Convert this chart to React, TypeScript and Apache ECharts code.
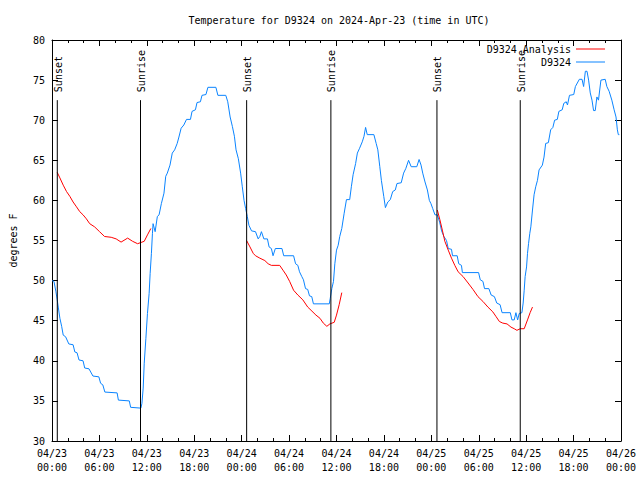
import React, { useEffect, useRef } from "react";
import * as echarts from "echarts";

// Hours since 2024-04-23 00:00 UTC, temperature (°F)
const blueSeries: [number, number][] = [
  [0.0, 50.0], [0.25, 49.9], [0.5, 48.6], [0.66, 47.6], [0.79, 46.7], [1.0, 45.3], [1.22, 44.3], [1.42, 43.2],
  [1.72, 43.0], [2.13, 42.1], [2.67, 42.0], [2.89, 41.1], [3.17, 41.0], [3.42, 40.1], [3.93, 40.0], [4.14, 39.1],
  [4.68, 39.0], [5.18, 38.1], [5.93, 38.0], [6.15, 37.2], [6.43, 37.0], [6.69, 36.1], [8.24, 36.0], [8.4, 35.1],
  [9.78, 35.0], [9.95, 34.2], [11.25, 34.1], [11.38, 34.7], [11.54, 36.6], [11.67, 39.7], [11.88, 42.8], [12.08, 45.9],
  [12.29, 48.4], [12.42, 50.9], [12.58, 53.4], [12.71, 55.9], [12.79, 57.1], [13.05, 56.1], [13.33, 58.0], [13.55, 58.2],
  [13.84, 59.6], [14.17, 60.9], [14.39, 63.0], [14.59, 63.4], [14.93, 64.4], [15.22, 65.9], [15.52, 66.3], [15.84, 67.1],
  [16.06, 67.9], [16.34, 69.0], [16.68, 69.4], [17.02, 70.1], [17.52, 70.1], [17.72, 71.1], [18.15, 71.3], [18.35, 72.2],
  [18.78, 72.3], [18.98, 73.1], [19.48, 73.2], [19.73, 74.1], [20.74, 74.1], [20.99, 73.1], [21.99, 73.1], [22.24, 72.3],
  [22.54, 70.4], [22.83, 69.2], [23.08, 68.0], [23.29, 66.3], [23.58, 65.2], [23.87, 63.4], [24.08, 61.7], [24.3, 60.0],
  [24.5, 59.0], [24.71, 58.0], [24.92, 56.9], [25.25, 56.2], [25.75, 56.1], [26.09, 55.2], [26.3, 55.5], [26.5, 56.1],
  [26.81, 55.2], [27.26, 55.2], [27.47, 54.2], [27.76, 54.0], [27.97, 53.1], [28.26, 54.0], [29.1, 54.0], [29.32, 53.1],
  [30.57, 53.1], [30.82, 52.1], [31.11, 51.9], [31.32, 51.1], [31.61, 50.5], [31.82, 50.1], [32.08, 49.0], [32.36, 48.9],
  [32.58, 48.1], [32.87, 48.0], [33.08, 47.1], [35.09, 47.1], [35.21, 47.8], [35.41, 49.0], [35.62, 49.9], [35.79, 52.1],
  [36.0, 53.8], [36.21, 54.4], [36.41, 55.5], [36.67, 56.5], [36.97, 58.4], [37.26, 60.1], [37.67, 60.1], [37.88, 61.7],
  [38.1, 63.2], [38.42, 64.6], [38.64, 65.9], [38.92, 66.5], [39.26, 67.3], [39.48, 68.0], [39.68, 69.1], [39.89, 68.2],
  [40.73, 68.2], [41.02, 67.1], [41.23, 66.3], [41.48, 64.2], [41.68, 62.5], [41.98, 60.5], [42.19, 59.1], [42.49, 59.8],
  [42.81, 60.1], [43.11, 61.1], [43.44, 61.3], [43.65, 62.1], [44.19, 62.2], [44.49, 63.4], [44.78, 64.0], [45.12, 65.0],
  [45.45, 64.2], [46.16, 64.2], [46.45, 65.1], [46.7, 64.4], [46.91, 63.4], [47.2, 62.3], [47.5, 61.3], [47.75, 60.0],
  [47.95, 59.6], [48.17, 59.0], [48.46, 58.2], [48.76, 58.2], [49.05, 57.3], [49.3, 56.2], [49.59, 55.5], [49.92, 55.0],
  [50.14, 54.0], [50.55, 53.9], [50.68, 53.1], [51.27, 53.1], [51.47, 52.1], [51.81, 51.9], [51.93, 51.0], [53.98, 51.0],
  [54.19, 50.1], [54.53, 49.9], [54.73, 49.0], [55.28, 49.0], [55.57, 48.2], [55.98, 48.0], [56.28, 47.2], [56.7, 47.0],
  [56.95, 46.0], [57.99, 46.0], [58.2, 45.1], [58.49, 45.1], [58.7, 46.0], [58.92, 45.1], [59.12, 45.9], [59.46, 46.0],
  [59.62, 47.2], [59.75, 48.8], [59.87, 50.5], [60.05, 51.7], [60.17, 53.4], [60.3, 54.6], [60.46, 55.9], [60.59, 56.7],
  [60.8, 58.8], [61.0, 60.7], [61.21, 61.7], [61.43, 62.5], [61.63, 63.8], [62.05, 64.4], [62.26, 65.4], [62.47, 67.1],
  [62.81, 67.2], [63.1, 68.8], [63.38, 69.1], [63.6, 70.0], [63.94, 70.1], [64.14, 71.1], [64.56, 71.3], [64.76, 72.1],
  [65.07, 72.3], [65.23, 71.9], [65.48, 73.1], [66.02, 73.2], [66.23, 74.2], [66.73, 75.1], [67.07, 75.1], [67.27, 74.2],
  [67.49, 76.1], [67.7, 76.1], [67.9, 75.0], [68.11, 73.4], [68.33, 72.5], [68.53, 71.2], [68.74, 71.2], [68.95, 72.9],
  [69.15, 72.5], [69.46, 75.0], [70.0, 75.1], [70.21, 74.2], [70.5, 73.6], [70.84, 72.5], [71.13, 71.3], [71.37, 70.4],
  [71.54, 68.8], [71.66, 68.2], [71.79, 68.2],
];

const analysisNight1: [number, number][] = [
  [0.66, 63.5], [1.0, 62.8], [1.42, 61.9], [1.84, 61.1], [2.26, 60.5], [2.67, 59.8], [3.1, 59.2], [3.51, 58.6],
  [3.93, 58.2], [4.35, 57.7], [4.77, 57.1], [5.39, 56.7], [6.02, 56.1], [6.65, 55.5], [7.49, 55.4], [8.12, 55.2],
  [8.74, 54.8], [9.57, 55.3], [10.2, 54.9], [10.83, 54.6], [11.67, 54.9], [12.08, 55.7], [12.51, 56.5],
];
const analysisNight2: [number, number][] = [
  [24.62, 55.0], [25.05, 54.2], [25.46, 53.4], [25.75, 53.1], [26.3, 52.8], [26.93, 52.5], [27.35, 52.1], [27.76, 51.9],
  [28.81, 51.9], [29.23, 51.3], [29.64, 50.7], [30.07, 49.9], [30.57, 48.8], [31.11, 48.2], [31.74, 47.6], [32.36, 46.7],
  [32.78, 46.3], [33.4, 45.7], [33.91, 45.3], [34.33, 44.7], [34.78, 44.3], [35.16, 44.6], [35.71, 44.8], [36.0, 45.7],
  [36.34, 47.0], [36.67, 48.5],
];
const analysisNight3: [number, number][] = [
  [48.76, 58.8], [49.08, 57.6], [49.39, 56.3], [49.71, 54.9], [50.14, 53.8], [50.55, 52.8], [50.97, 51.9], [51.39, 51.1],
  [52.02, 50.5], [52.65, 49.7], [53.27, 48.9], [53.9, 48.0], [54.53, 47.4], [55.16, 46.7], [55.78, 46.1], [56.2, 45.5],
  [56.61, 44.9], [57.04, 44.7], [57.58, 44.6], [58.08, 44.2], [58.49, 44.0], [58.83, 43.8], [59.25, 44.0], [59.75, 44.0],
  [60.17, 45.1], [60.5, 46.0], [60.8, 46.7],
];

const sunHours = [0.67, 11.2, 24.63, 35.29, 48.71, 59.25];
const sunLabels = ["Sunset", "Sunrise", "Sunset", "Sunrise", "Sunset", "Sunrise"];
const sunLineTop = 72.5;

const startDay = 23;
const FONT = "DejaVu Sans Mono";
const BLUE = "#0a84ff";
const RED = "#ff0000";

function fmtTick(h: number): string {
  const day = startDay + Math.floor(h / 24);
  const hh = Math.round(h % 24);
  return "04/" + String(day).padStart(2, "0") + "\n" + String(hh).padStart(2, "0") + ":00";
}

export default function App() {
  const ref = useRef<HTMLDivElement>(null);
  useEffect(() => {
    if (!ref.current) return;
    const chart = echarts.init(ref.current, null, { renderer: "svg" });
    const xCommon = {
      type: "value" as const,
      min: 0,
      max: 72,
      interval: 6,
      splitLine: { show: false },
      axisLine: { show: true, onZero: false, lineStyle: { color: "#000", width: 1 } },
      axisTick: { show: true, inside: true, length: 6, lineStyle: { color: "#000" } },
      minorTick: { show: true, splitNumber: 3, length: 3, lineStyle: { color: "#000" } },
    };
    const yCommon = {
      type: "value" as const,
      min: 30,
      max: 80,
      interval: 5,
      splitLine: { show: false },
      axisLine: { show: true, onZero: false, lineStyle: { color: "#000", width: 1 } },
      axisTick: { show: true, inside: true, length: 6, lineStyle: { color: "#000" } },
    };
    const lineSeries = (name: string, data: [number, number][], color: string) => ({
      type: "line" as const,
      name,
      data,
      showSymbol: false,
      symbol: "none",
      lineStyle: { color, width: 1 },
      itemStyle: { color },
      z: name === "D9324" ? 2 : 3,
    });
    chart.setOption({
      animation: false,
      textStyle: { fontFamily: FONT },
      title: {
        text: "Temperature for D9324 on 2024-Apr-23 (time in UTC)",
        left: 334,
        top: 10,
        textAlign: "center",
        textStyle: { fontFamily: FONT, fontSize: 10, fontWeight: "normal", color: "#000" },
      },
      legend: {
        data: ["D9324 Analysis", "D9324"],
        orient: "vertical",
        right: 30,
        top: 38,
        align: "right",
        icon: "rect",
        itemWidth: 29,
        itemHeight: 1,
        itemGap: 1,
        textStyle: { fontFamily: FONT, fontSize: 10, color: "#000", lineHeight: 12 },
      },
      grid: { left: 47, right: 19, top: 40, bottom: 39, containLabel: false },
      xAxis: [
        {
          ...xCommon,
          position: "bottom",
          axisLabel: {
            show: true,
            margin: 5,
            fontFamily: FONT,
            fontSize: 10,
            color: "#000",
            lineHeight: 14,
            formatter: (v: number) => fmtTick(v),
          },
        },
        { ...xCommon, position: "top", axisLabel: { show: false } },
      ],
      yAxis: [
        {
          ...yCommon,
          position: "left",
          name: "degrees F",
          nameLocation: "middle",
          nameGap: 34,
          nameRotate: 90,
          nameTextStyle: { fontFamily: FONT, fontSize: 10, color: "#000" },
          axisLabel: { show: true, margin: 7, fontFamily: FONT, fontSize: 10, color: "#000" },
        },
        { ...yCommon, position: "right", axisLabel: { show: false } },
      ],
      series: [
        lineSeries("D9324", blueSeries, BLUE),
        lineSeries("D9324 Analysis", analysisNight1, RED),
        lineSeries("D9324 Analysis", analysisNight2, RED),
        lineSeries("D9324 Analysis", analysisNight3, RED),
        {
          type: "custom",
          name: "sun",
          data: sunHours.map((h) => [h]),
          encode: { x: 0 },
          z: 4,
          silent: true,
          renderItem: (params: any, api: any) => {
            const h = api.value(0);
            const top = api.coord([h, sunLineTop]);
            const bottom = api.coord([h, 30]);
            return {
              type: "group",
              children: [
                {
                  type: "line",
                  shape: { x1: top[0], y1: top[1], x2: bottom[0], y2: bottom[1] },
                  style: { stroke: "#000", lineWidth: 1 },
                },
                {
                  type: "text",
                  x: top[0] + 1,
                  y: top[1] - 8,
                  rotation: Math.PI / 2,
                  style: {
                    text: sunLabels[params.dataIndex],
                    x: 0,
                    y: 0,
                    align: "left",
                    verticalAlign: "middle",
                    fontFamily: FONT,
                    fontSize: 10,
                    fill: "#000",
                  },
                },
              ],
            };
          },
        },
      ],
    });
    return () => chart.dispose();
  }, []);
  return (
    <div
      ref={ref}
      style={{ position: "fixed", left: 0, top: 0, width: 640, height: 480, background: "#fff" }}
    />
  );
}
